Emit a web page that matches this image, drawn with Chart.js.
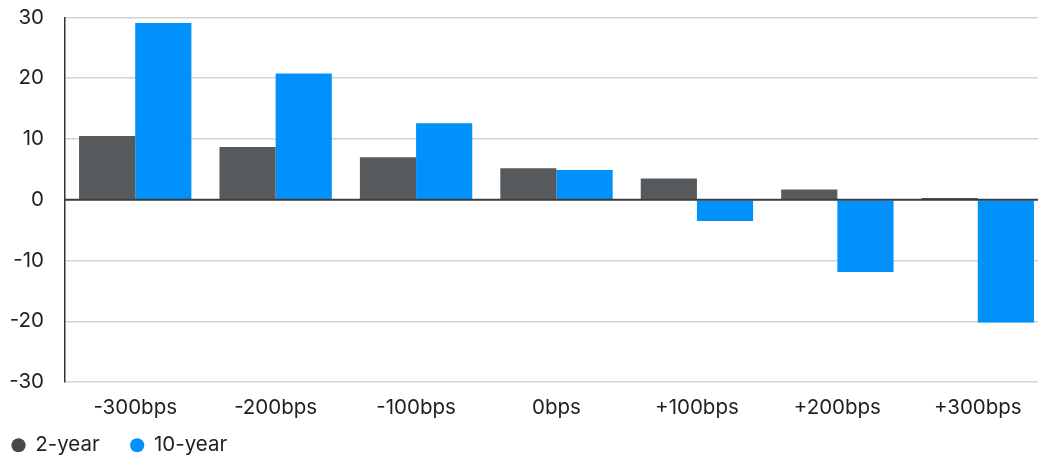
<!DOCTYPE html>
<html>
<head>
<meta charset="utf-8">
<script src="https://cdn.jsdelivr.net/npm/chart.js@4/dist/chart.umd.min.js"></script>
<style>
  html, body { margin: 0; padding: 0; background: #ffffff; overflow: hidden; }
  #wrap { width: 1038px; height: 455px; overflow: hidden; position: relative; }
  #box { width: 1048px; height: 455px; position: absolute; left: 0; top: 0; }
</style>
</head>
<body>
<div id="wrap"><div id="box"><canvas id="chart"></canvas></div></div>
<script>
// Rate shock scenarios
const categories = ['-300bps', '-200bps', '-100bps', '0bps', '+100bps', '+200bps', '+300bps'];
// Returns for each scenario, %
const twoYear = [10.5, 8.7, 7.0, 5.2, 3.5, 1.7, 0.3];
const tenYear = [29.1, 20.8, 12.6, 4.9, -3.5, -11.9, -20.2];
const seriesNames = ['2-year', '10-year'];
const yTicks = [-30, -20, -10, 0, 10, 20, 30];

const FONT = 'Inter, "Liberation Sans", Arial, sans-serif';
const FONT_SIZE = 20.5;
const TEXT = '#1f1f1f';
const LEGEND_GAP = 31;
const LEGEND_H = 29;

// Dark baseline at zero, drawn above the bars
const zeroLine = {
  id: 'zeroLine',
  afterDatasetsDraw(chart) {
    const y = chart.scales.y.getPixelForValue(0);
    const { left, right } = chart.chartArea;
    const ctx = chart.ctx;
    ctx.save();
    ctx.strokeStyle = '#3c3c3c';
    ctx.lineWidth = 2;
    ctx.beginPath();
    ctx.moveTo(left, y);
    ctx.lineTo(right, y);
    ctx.stroke();
    ctx.restore();
  }
};

// Compact legend row: wide spacing between items, but a short box
const legendTweak = {
  id: 'legendTweak',
  afterInit(chart) {
    const lg = chart.legend;
    if (!lg) return;
    const fit = lg.fit.bind(lg);
    lg.fit = function () { fit(); this.height = LEGEND_H; };
  },
  afterLayout(chart) {
    const lg = chart.legend;
    if (!lg) return;
    lg.left -= 19;
    lg.top = chart.height - 51;
  }
};

new Chart(document.getElementById('chart'), {
  type: 'bar',
  data: {
    labels: categories,
    datasets: [
      { label: seriesNames[0], data: twoYear, backgroundColor: '#575a5d' },
      { label: seriesNames[1], data: tenYear, backgroundColor: '#0091fa' }
    ]
  },
  options: {
    responsive: true,
    maintainAspectRatio: false,
    animation: false,
    datasets: { bar: { categoryPercentage: 0.8, barPercentage: 1.0 } },
    layout: { padding: { left: 0, right: 0, top: 17.5, bottom: 0 } },
    plugins: {
      tooltip: { enabled: false },
      legend: {
        position: 'bottom',
        align: 'start',
        labels: {
          usePointStyle: true,
          pointStyle: 'circle',
          boxWidth: 13,
          boxHeight: 10,
          padding: LEGEND_GAP,
          color: TEXT,
          font: { family: FONT, size: FONT_SIZE },
          generateLabels(chart) {
            const items = Chart.defaults.plugins.legend.labels.generateLabels(chart);
            items.forEach(it => {
              if (it.datasetIndex === 0) { it.fillStyle = '#45494c'; it.strokeStyle = '#45494c'; }
              it.lineWidth = 0;
            });
            return items;
          }
        }
      }
    },
    scales: {
      x: {
        grid: { display: false, drawTicks: false },
        border: { display: false },
        afterFit(scale) { scale.height = 44; },
        ticks: { color: TEXT, font: { family: FONT, size: FONT_SIZE }, padding: 14, maxRotation: 0 }
      },
      y: {
        min: -30,
        max: 30,
        afterBuildTicks(scale) { scale.ticks = yTicks.map(v => ({ value: v })); },
        afterFit(scale) {
          scale.width = 65;
          scale.paddingTop = 0;
          scale.paddingBottom = 0;
        },
        grid: { color: '#d2d2d2', lineWidth: 1.5, drawTicks: false },
        border: { display: true, color: '#333333', width: 1.5 },
        ticks: { color: TEXT, font: { family: FONT, size: FONT_SIZE }, padding: 21 }
      }
    }
  },
  plugins: [zeroLine, legendTweak]
});
</script>
</body>
</html>
